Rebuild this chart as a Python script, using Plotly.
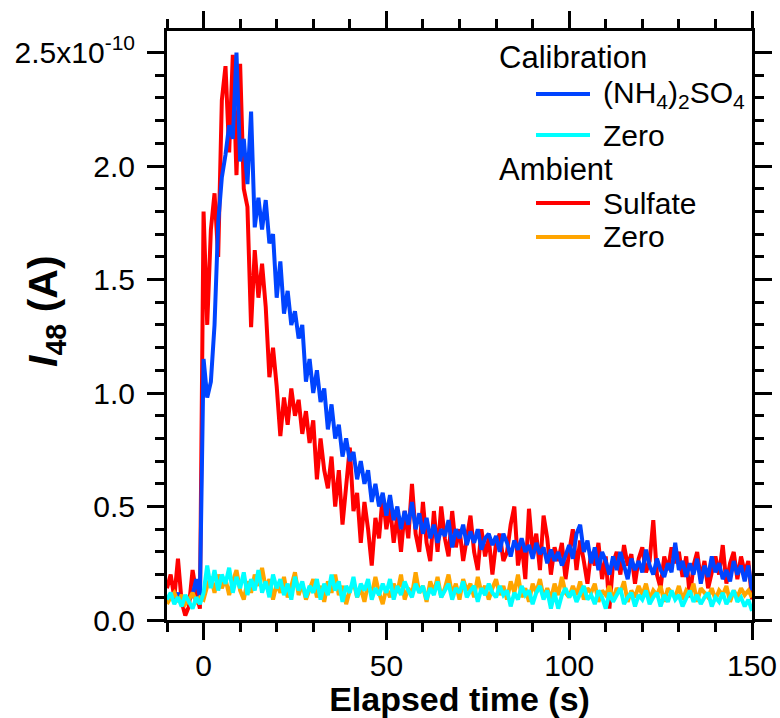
import plotly.graph_objects as go

# Elapsed time (s)
time_s = list(range(-10, 151))

# Signal values in units of 1e-10 A
cal_nh4so4 = [
    0.09, 0.11, 0.08, 0.12, 0.07, 0.10, 0.09, 0.11, 0.18, 0.10,
    1.15, 0.98, 1.05, 1.30, 1.75, 1.95, 2.05, 2.18, 2.12, 2.50,
    2.02, 2.12, 1.92, 2.24, 1.73, 1.86, 1.72, 1.85, 1.66, 1.70,
    1.42, 1.58, 1.35, 1.45, 1.30, 1.36, 1.24, 1.30, 1.05, 1.15,
    1.00, 1.10, 0.96, 1.02, 0.84, 0.95, 0.80, 0.86, 0.72, 0.80,
    0.70, 0.74, 0.62, 0.70, 0.60, 0.66, 0.52, 0.60, 0.50, 0.56,
    0.46, 0.55, 0.44, 0.50, 0.40, 0.48, 0.42, 0.52, 0.40, 0.47,
    0.38, 0.45, 0.36, 0.42, 0.34, 0.40, 0.37, 0.44, 0.32, 0.40,
    0.36, 0.42, 0.33, 0.39, 0.34, 0.40, 0.31, 0.36, 0.38, 0.33,
    0.37, 0.30, 0.38, 0.34, 0.28, 0.35, 0.31, 0.36, 0.30, 0.33,
    0.27, 0.34, 0.29, 0.32, 0.25, 0.31, 0.26, 0.30, 0.24, 0.29,
    0.33, 0.27, 0.38, 0.42, 0.30, 0.35, 0.25, 0.32, 0.22, 0.30,
    0.26, 0.20, 0.28, 0.22, 0.30, 0.24, 0.18, 0.27, 0.22, 0.26,
    0.21, 0.31, 0.24, 0.20, 0.27, 0.22, 0.19, 0.25, 0.21, 0.34,
    0.22, 0.26, 0.19, 0.25, 0.20, 0.27, 0.16, 0.24, 0.19, 0.28,
    0.21, 0.25, 0.18, 0.22, 0.17, 0.26, 0.20, 0.24, 0.17, 0.24,
    0.13,
]

cal_zero = [
    0.09, 0.12, 0.07, 0.10, 0.06, 0.11, 0.08, 0.05, 0.10, 0.07,
    0.12, 0.24, 0.14, 0.22, 0.13, 0.20, 0.16, 0.23, 0.12, 0.19,
    0.14, 0.21, 0.11, 0.18, 0.13, 0.22, 0.12, 0.17, 0.10, 0.20,
    0.14, 0.18, 0.11, 0.16, 0.09, 0.19, 0.13, 0.17, 0.10, 0.15,
    0.12, 0.18, 0.09, 0.16, 0.11, 0.20, 0.13, 0.17, 0.08, 0.15,
    0.12, 0.19, 0.10, 0.16, 0.13, 0.18, 0.09, 0.14, 0.11, 0.16,
    0.12, 0.18, 0.09, 0.15, 0.11, 0.17, 0.13, 0.10, 0.16, 0.12,
    0.15, 0.09, 0.14, 0.11, 0.17, 0.10, 0.13, 0.16, 0.09, 0.14,
    0.12, 0.17, 0.10, 0.13, 0.15, 0.08, 0.14, 0.11, 0.16, 0.12,
    0.10, 0.15, 0.11, 0.13, 0.06, 0.12, 0.09, 0.15, 0.11, 0.13,
    0.07, 0.12, 0.15, 0.09, 0.13, 0.05, 0.12, 0.05, 0.11, 0.14,
    0.10, 0.13, 0.08, 0.12, 0.15, 0.09, 0.11, 0.07, 0.13, 0.10,
    0.05, 0.12, 0.08, 0.11, 0.14, 0.07, 0.10, 0.12, 0.06, 0.11,
    0.09, 0.13, 0.07, 0.10, 0.12, 0.06, 0.11, 0.08, 0.13, 0.09,
    0.11, 0.06, 0.10, 0.13, 0.08, 0.11, 0.07, 0.10, 0.12, 0.06,
    0.10, 0.08, 0.12, 0.07, 0.10, 0.13, 0.08, 0.10, 0.06, 0.09,
    0.04,
]

amb_sulfate = [
    0.14, 0.20, 0.10, 0.27, 0.08, 0.02, 0.06, 0.22, 0.12, 0.05,
    1.80, 1.30, 1.72, 1.88, 1.60, 2.29, 2.44, 2.06, 2.49, 1.96,
    2.45, 1.90, 1.82, 1.29, 1.63, 1.42, 1.57, 1.38, 1.07, 1.20,
    1.03, 0.81, 0.98, 0.86, 1.02, 0.90, 0.97, 0.82, 0.92, 0.78,
    0.88, 0.62, 0.80, 0.66, 0.58, 0.72, 0.50, 0.66, 0.42, 0.60,
    0.76, 0.48, 0.56, 0.34, 0.52, 0.40, 0.24, 0.45, 0.36, 0.55,
    0.40, 0.50, 0.34, 0.46, 0.30, 0.48, 0.36, 0.60, 0.38, 0.30,
    0.52, 0.34, 0.26, 0.48, 0.30, 0.50, 0.36, 0.28, 0.48, 0.32,
    0.40, 0.26, 0.36, 0.46, 0.30, 0.22, 0.40, 0.28, 0.36, 0.20,
    0.34, 0.38, 0.26, 0.30, 0.42, 0.50, 0.24, 0.34, 0.18, 0.49,
    0.30, 0.38, 0.22, 0.46, 0.36, 0.20, 0.32, 0.26, 0.34, 0.18,
    0.30, 0.40, 0.22, 0.35, 0.26, 0.16, 0.30, 0.24, 0.34, 0.18,
    0.28, 0.05, 0.25, 0.30, 0.20, 0.33, 0.24, 0.29, 0.16, 0.27,
    0.32, 0.21, 0.26, 0.44, 0.20, 0.14, 0.28, 0.22, 0.32, 0.25,
    0.30, 0.19, 0.28, 0.10, 0.24, 0.30, 0.18, 0.26, 0.14, 0.22,
    0.28, 0.20, 0.33, 0.16, 0.25, 0.30, 0.18, 0.28, 0.21, 0.26,
    0.09,
]

amb_zero = [
    0.07, 0.10, 0.12, 0.08, 0.11, 0.07, 0.09, 0.12, 0.08, 0.10,
    0.09, 0.15, 0.19, 0.12, 0.20, 0.14, 0.18, 0.11, 0.17, 0.22,
    0.13, 0.09, 0.17, 0.12, 0.20, 0.15, 0.23, 0.14, 0.18, 0.09,
    0.16, 0.12, 0.19, 0.10, 0.15, 0.21, 0.11, 0.16, 0.09, 0.14,
    0.18, 0.10, 0.15, 0.08, 0.17, 0.12, 0.20, 0.11, 0.15, 0.07,
    0.13, 0.17, 0.10, 0.14, 0.08, 0.16, 0.11, 0.19, 0.12, 0.07,
    0.14, 0.10, 0.16, 0.12, 0.20, 0.09, 0.14, 0.11, 0.21, 0.12,
    0.15, 0.08, 0.17, 0.12, 0.19, 0.10, 0.14, 0.20, 0.11, 0.16,
    0.09, 0.18, 0.13, 0.16, 0.10, 0.19, 0.12, 0.15, 0.09, 0.14,
    0.18, 0.11, 0.15, 0.09, 0.17, 0.12, 0.20, 0.10, 0.14, 0.08,
    0.16, 0.12, 0.18, 0.10, 0.14, 0.09, 0.16, 0.11, 0.19, 0.12,
    0.10, 0.15, 0.11, 0.17, 0.09, 0.14, 0.12, 0.16, 0.08, 0.13,
    0.11, 0.15, 0.09, 0.14, 0.12, 0.17, 0.08, 0.13, 0.10, 0.15,
    0.11, 0.16, 0.09, 0.13, 0.11, 0.15, 0.08, 0.14, 0.12, 0.10,
    0.15, 0.09, 0.13, 0.11, 0.16, 0.08, 0.14, 0.12, 0.10, 0.14,
    0.09, 0.13, 0.11, 0.15, 0.08, 0.13, 0.10, 0.14, 0.11, 0.13,
    0.10,
]

y_tick_vals = [0.0, 0.5, 1.0, 1.5, 2.0, 2.5]
y_tick_text = ["0.0", "0.5", "1.0", "1.5", "2.0", "2.5x10<sup>-10</sup>"]
x_tick_vals = [0, 50, 100, 150]

# Legend structure: (group title, [(label, colour), ...])
legend_groups = [
    ("Calibration", [("(NH<sub>4</sub>)<sub>2</sub>SO<sub>4</sub>", "#0044FF"),
                     ("Zero", "#00FFFF")]),
    ("Ambient", [("Sulfate", "#FF0000"), ("Zero", "#FFA500")]),
]

SCALE = 1e-10
FONT = "Liberation Sans, Arial, sans-serif"
LW = 4


def scaled(vals):
    return [v * SCALE for v in vals]


fig = go.Figure()

fig.add_trace(go.Scatter(
    x=time_s, y=scaled(amb_sulfate), mode="lines", name="Ambient Sulfate",
    line=dict(color="#FF0000", width=LW), showlegend=False,
))
fig.add_trace(go.Scatter(
    x=time_s, y=scaled(cal_nh4so4), mode="lines",
    name="Calibration (NH<sub>4</sub>)<sub>2</sub>SO<sub>4</sub>",
    line=dict(color="#0044FF", width=LW), showlegend=False,
))
fig.add_trace(go.Scatter(
    x=time_s, y=scaled(amb_zero), mode="lines", name="Ambient Zero",
    line=dict(color="#FFA500", width=LW), showlegend=False,
))
fig.add_trace(go.Scatter(
    x=time_s, y=scaled(cal_zero), mode="lines", name="Calibration Zero",
    line=dict(color="#00FFFF", width=LW), showlegend=False,
))

axis_common = dict(
    showline=True, linecolor="black", linewidth=3,
    mirror="allticks", ticks="outside", ticklen=17, tickwidth=2.5,
    tickcolor="black", showgrid=False, zeroline=False, automargin=False,
    tickfont=dict(family=FONT, size=30, color="black"),
)

fig.update_xaxes(
    range=[-10, 150], tickvals=x_tick_vals, **axis_common,
    minor=dict(dtick=10, ticklen=9, tickwidth=2.5, tickcolor="black", ticks="outside"),
    title=dict(text="<b>Elapsed time (s)</b>", font=dict(family=FONT, size=34, color="black"),
               standoff=3),
)
fig.update_yaxes(
    range=[0, 2.595 * SCALE], tickvals=scaled(y_tick_vals), ticktext=y_tick_text,
    **axis_common, ticklabelstandoff=6,
    minor=dict(dtick=0.1 * SCALE, ticklen=9, tickwidth=2.5, tickcolor="black", ticks="outside"),
)

PLOT_L, PLOT_R, PLOT_T, PLOT_B = 167, 752, 31, 620


def px_x(px):
    return (px - PLOT_L) / (PLOT_R - PLOT_L)


def px_y(py):
    return (PLOT_B - py) / (PLOT_B - PLOT_T)


fig.add_annotation(
    text="<b><i>I</i><sub>48</sub> (A)</b>", textangle=-90,
    xref="paper", yref="paper", x=px_x(46), y=px_y(311),
    xanchor="center", yanchor="middle", showarrow=False,
    font=dict(family=FONT, size=41, color="black"),
)

# Manual legend (group titles flush left, entries indented with long keys)
row_y = [58, 94, 135, 169, 203, 237]
title_x, key_x0, key_x1, text_x = 497, 536, 590, 601
row = 0
for title, items in legend_groups:
    fig.add_annotation(
        text=title, xref="paper", yref="paper", x=px_x(title_x), y=px_y(row_y[row]),
        xanchor="left", yanchor="middle", showarrow=False,
        font=dict(family=FONT, size=31, color="black"),
    )
    row += 1
    for label, colour in items:
        fig.add_shape(
            type="line", xref="paper", yref="paper",
            x0=px_x(key_x0), x1=px_x(key_x1), y0=px_y(row_y[row]), y1=px_y(row_y[row]),
            line=dict(color=colour, width=LW),
        )
        fig.add_annotation(
            text=label, xref="paper", yref="paper", x=px_x(text_x), y=px_y(row_y[row]),
            xanchor="left", yanchor="middle", showarrow=False,
            font=dict(family=FONT, size=30, color="black"),
        )
        row += 1

fig.update_layout(
    width=780, height=718,
    margin=dict(l=PLOT_L, r=780 - PLOT_R, t=PLOT_T, b=718 - PLOT_B),
    paper_bgcolor="white", plot_bgcolor="white",
    showlegend=False,
)

fig.write_html("out.html")
